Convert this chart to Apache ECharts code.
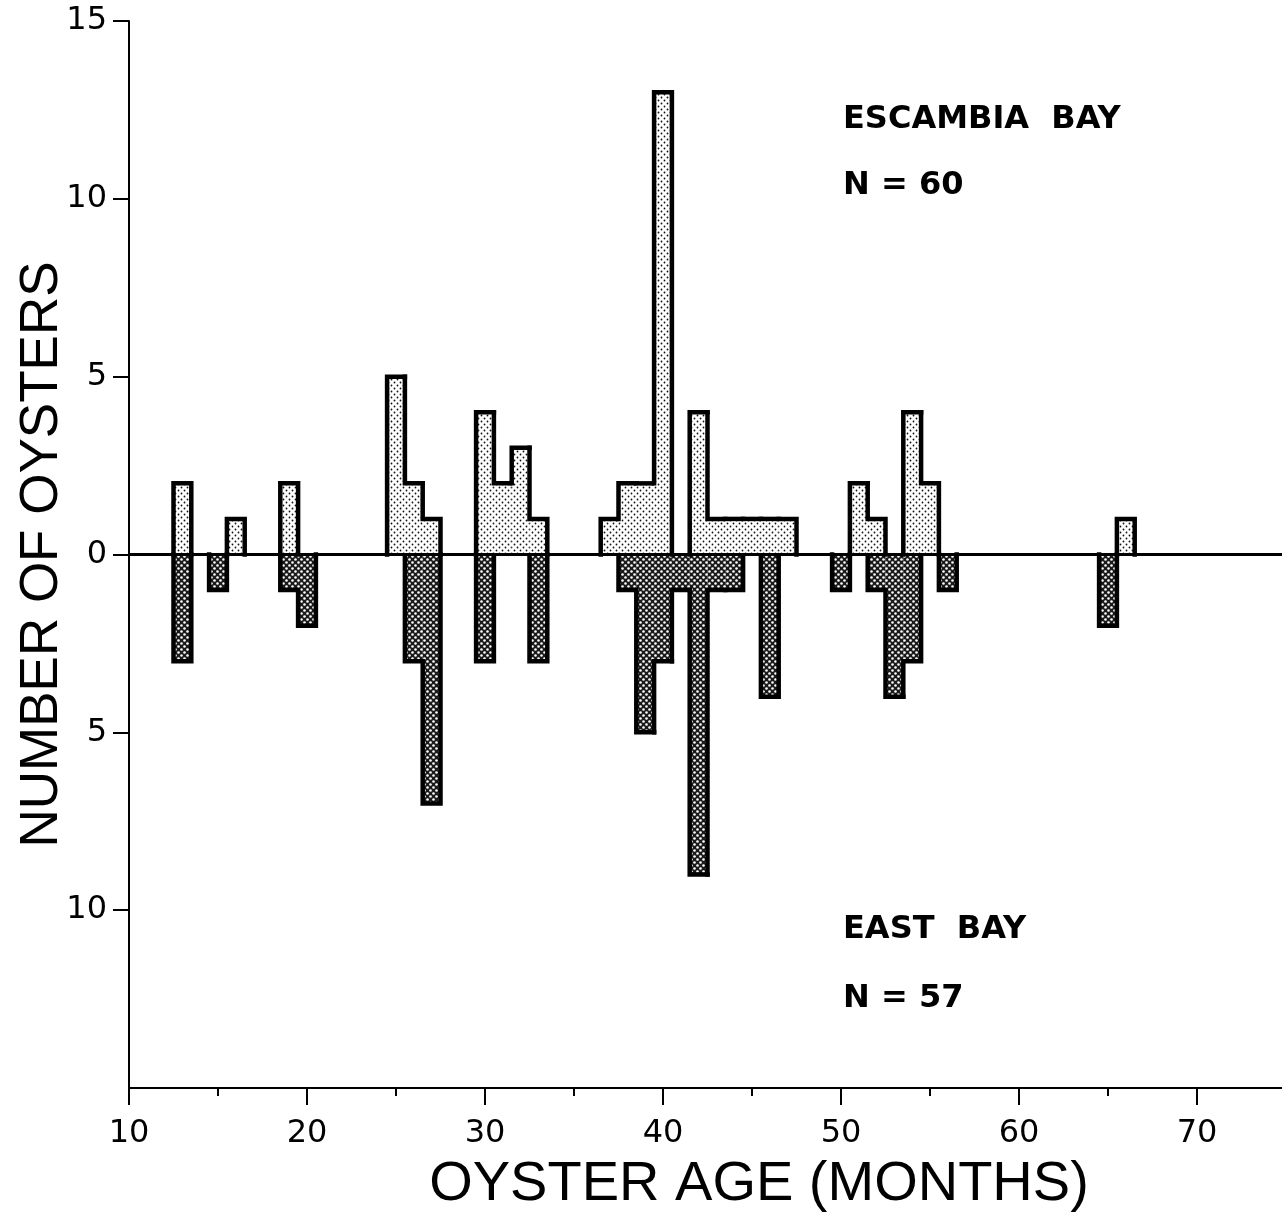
<!DOCTYPE html>
<html>
<head>
<meta charset="utf-8">
<script src="https://cdn.jsdelivr.net/npm/echarts@6/dist/echarts.min.js"></script>
<style>
  html, body { margin: 0; padding: 0; background: #fff; }
  #chart { width: 1282px; height: 1216px; }
</style>
</head>
<body>
<div id="chart"></div>
<script>
// ---- data ----
const escambiaMonths = [13, 16, 19, 25, 26, 27, 30, 31, 32, 33, 37, 38, 39, 40, 42, 43, 44, 45, 46, 47, 51, 52, 54, 55, 66];
const escambiaCounts = [2, 1, 2, 5, 2, 1, 4, 2, 3, 1, 1, 2, 2, 13, 4, 1, 1, 1, 1, 1, 2, 1, 4, 2, 1];
const eastMonths = [13, 15, 19, 20, 26, 27, 30, 33, 38, 39, 40, 41, 42, 43, 44, 46, 50, 52, 53, 54, 56, 65];
const eastCounts = [3, 1, 1, 2, 3, 7, 3, 3, 1, 5, 3, 1, 9, 1, 1, 4, 1, 1, 4, 3, 1, 2];
const yTickValues = [-10, -5, 0, 5, 10, 15];
const xTickValues = [10, 20, 30, 40, 50, 60, 70];
const labels = [
  { text: 'ESCAMBIA  BAY', x: 843, y: 122 },
  { text: 'N = 60', x: 843, y: 188 },
  { text: 'EAST  BAY', x: 843, y: 932 },
  { text: 'N = 57', x: 843, y: 1001 }
];

// ---- fill patterns ----
function makePattern(bg, dot, r) {
  const c = document.createElement('canvas');
  c.width = 6; c.height = 6;
  const g = c.getContext('2d');
  g.fillStyle = bg; g.fillRect(0, 0, 6, 6);
  g.fillStyle = dot;
  [[1.5, 1.5], [4.5, 4.5]].forEach(p => { g.beginPath(); g.arc(p[0], p[1], r, 0, Math.PI * 2); g.fill(); });
  return { image: c, repeat: 'repeat' };
}
const lightPattern = makePattern('#ffffff', '#111111', 0.9);
const darkPattern = makePattern('#1a1a1a', '#ffffff', 1.3);

function buildSeries(name, months, counts, sign, pattern) {
  const map = {};
  months.forEach((m, i) => { map[m] = counts[i] * sign; });
  const data = months.map((m, i) => [m, counts[i] * sign]);
  return {
    name: name,
    type: 'custom',
    data: data,
    encode: { x: 0, y: 1 },
    renderItem: function (params, api) {
      const x = api.value(0), v = api.value(1);
      const prev = map[x - 1] !== undefined ? map[x - 1] : 0;
      const hasNext = map[x + 1] !== undefined;
      const p0 = api.coord([x - 0.5, 0]);
      const p1 = api.coord([x + 0.5, v]);
      const pts = [api.coord([x - 0.5, prev]), api.coord([x - 0.5, v]), api.coord([x + 0.5, v])];
      if (!hasNext) pts.push(api.coord([x + 0.5, 0]));
      return {
        type: 'group',
        children: [
          {
            type: 'rect',
            shape: { x: Math.min(p0[0], p1[0]), y: Math.min(p0[1], p1[1]), width: Math.abs(p1[0] - p0[0]), height: Math.abs(p1[1] - p0[1]) },
            style: { fill: pattern }
          },
          {
            type: 'polyline',
            shape: { points: pts },
            style: { stroke: '#000', lineWidth: 4.5, fill: null, lineJoin: 'miter', lineCap: 'square' }
          }
        ]
      };
    },
    z: sign > 0 ? 3 : 2
  };
}

const chart = echarts.init(document.getElementById('chart'), null, { renderer: 'canvas' });
const tickFont = { fontFamily: 'DejaVu Sans', fontSize: 32, color: '#000' };

const option = {
  animation: false,
  backgroundColor: '#fff',
  grid: { left: 129, top: 21, right: -93, bottom: 128, containLabel: false, outerBoundsMode: 'none' },
  xAxis: {
    type: 'value', min: 10, max: 80, interval: 10,
    name: 'OYSTER AGE (MONTHS)', nameLocation: 'middle', nameGap: 69, nameMoveOverlap: false,
    nameTextStyle: { fontFamily: 'Liberation Sans', fontSize: 56, color: '#000', padding: [0, 0, 0, 14] },
    axisLine: { onZero: false, lineStyle: { color: '#000', width: 2 } },
    axisTick: { length: 17, lineStyle: { color: '#000', width: 2 }, customValues: xTickValues },
    minorTick: { show: true, splitNumber: 2, length: 8, lineStyle: { color: '#000', width: 2 } },
    axisLabel: { margin: 30, ...tickFont, customValues: xTickValues, formatter: v => String(v) },
    splitLine: { show: false }
  },
  yAxis: {
    type: 'value', min: -15, max: 15, interval: 5,
    name: 'NUMBER OF OYSTERS', nameLocation: 'middle', nameGap: 60, nameRotate: 90, nameMoveOverlap: false,
    nameTextStyle: { fontFamily: 'Liberation Sans', fontSize: 53, color: '#000' },
    axisLine: { onZero: false, lineStyle: { color: '#000', width: 2 } },
    axisTick: { length: 16, lineStyle: { color: '#000', width: 2 }, customValues: yTickValues },
    axisLabel: { margin: 22, ...tickFont, customValues: yTickValues, formatter: v => String(Math.abs(v)) },
    splitLine: { show: false }
  },
  graphic: labels.map(l => ({
    type: 'text', left: l.x, top: l.y - 18,
    style: { text: l.text, fontFamily: 'DejaVu Sans', fontWeight: 'bold', fontSize: 32, fill: '#000' }
  })),
  series: [
    Object.assign(buildSeries('Escambia Bay', escambiaMonths, escambiaCounts, 1, lightPattern), {
      markLine: {
        silent: true, symbol: 'none', label: { show: false },
        lineStyle: { color: '#000', width: 3, type: 'solid' },
        data: [{ yAxis: 0 }]
      }
    }),
    buildSeries('East Bay', eastMonths, eastCounts, -1, darkPattern)
  ]
};
chart.setOption(option);
</script>
</body>
</html>
